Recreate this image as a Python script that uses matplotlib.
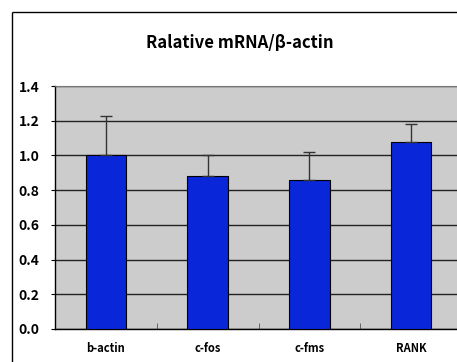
import matplotlib
matplotlib.use("Agg")
import matplotlib.pyplot as plt
from matplotlib.lines import Line2D
import numpy as np

categories = ["b-actin", "c-fos", "c-fms", "RANK"]
values = [1.00, 0.88, 0.86, 1.08]
errors = [0.23, 0.12, 0.16, 0.10]
yticks = [0.0, 0.2, 0.4, 0.6, 0.8, 1.0, 1.2, 1.4]
ytick_labels = ["0.0", "0.2", "0.4", "0.6", "0.8", "1.0", "1.2", "1.4"]
title = "Ralative mRNA/β-actin"

plt.rcParams['font.family'] = ['Noto Sans CJK JP', 'DejaVu Sans']

fig = plt.figure(figsize=(4.57, 3.62), dpi=100)
fig.patch.set_facecolor("white")
fx = 11.5 / 457
fy = 1 - 11.5 / 362
fig.add_artist(Line2D([fx, 1.0], [fy, fy], transform=fig.transFigure,
                      color="black", linewidth=1.0, solid_capstyle="butt"))
fig.add_artist(Line2D([fx, fx], [0.0, fy], transform=fig.transFigure,
                      color="black", linewidth=1.0, solid_capstyle="butt"))

ax = fig.add_axes([55/457, 33/362, 407/457, 243/362])
ax.set_facecolor("#cccccc")
x = np.arange(len(categories))
ax.set_axisbelow(True)
ax.yaxis.grid(True, color="#222222", linewidth=1.0)
ax.bar(x, values, width=0.4, color="#0926D9", edgecolor="black", linewidth=0.8, zorder=3)
ax.errorbar(x, values, yerr=[np.zeros(len(values)), errors], fmt="none",
            ecolor="#333333", elinewidth=1.0, capsize=4, capthick=1.0, zorder=4)

ax.set_xlim(-0.5, len(categories) - 0.5)
ax.set_ylim(0, 1.4)
ax.set_yticks(yticks)
ax.set_yticklabels(ytick_labels, fontsize=10, fontweight="bold")
ax.set_xticks(x)
ax.set_xticklabels(categories, fontsize=8, fontweight="bold")
ax.tick_params(axis="x", length=0, pad=9)
ax.tick_params(axis="y", length=3, pad=8)
ax.set_xticks(np.arange(0.5, len(categories) - 0.5, 1.0), minor=True)
ax.tick_params(axis="x", which="minor", direction="in", length=4, color="#555555")

for s in ["left", "bottom"]:
    ax.spines[s].set_color("black")
    ax.spines[s].set_linewidth(1.0)
ax.spines["top"].set_color("#777777")
ax.spines["right"].set_visible(False)

fig.text(240/457, 1 - 43/362, title, ha="center", va="center",
         fontsize=12, fontweight="bold")

fig.savefig("out.png", dpi=100)
